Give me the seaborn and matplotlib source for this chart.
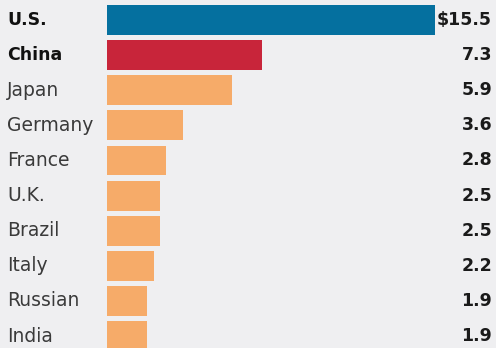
import matplotlib
matplotlib.use("Agg")
import matplotlib.pyplot as plt
import matplotlib.transforms as mtransforms
import seaborn as sns
import pandas as pd

countries = ["U.S.", "China", "Japan", "Germany", "France", "U.K.", "Brazil", "Italy", "Russian", "India"]
values = [15.5, 7.3, 5.9, 3.6, 2.8, 2.5, 2.5, 2.2, 1.9, 1.9]
value_labels = ["$15.5", "7.3", "5.9", "3.6", "2.8", "2.5", "2.5", "2.2", "1.9", "1.9"]
bold_rows = ["U.S.", "China"]

bar_colors = {"U.S.": "#05709f", "China": "#c8253a"}
other_color = "#f6ab69"
bg = "#efeff1"

df = pd.DataFrame({"country": countries, "value": values})
palette = {c: bar_colors.get(c, other_color) for c in countries}

sns.set_theme(style="white")
plt.rcParams['font.family'] = ['DejaVu Sans']

fig = plt.figure(figsize=(4.96, 3.48), dpi=100)
fig.patch.set_facecolor(bg)
ax = fig.add_axes([0, 0, 1, 1])
ax.set_facecolor(bg)

sns.barplot(data=df, y="country", x="value", hue="country", palette=palette,
            orient="h", width=0.85, legend=False, ax=ax, saturation=1, linewidth=0)

ax.set_xlim(-5.06, 18.38)
ax.set_ylim(9.34, -0.57)
ax.axis("off")

trans = mtransforms.blended_transform_factory(ax.transAxes, ax.transData)
for i, (c, lbl) in enumerate(zip(countries, value_labels)):
    is_bold = c in bold_rows
    ax.text(0.014, i, c, transform=trans, ha="left", va="center",
            fontsize=12.5 if is_bold else 13.5,
            fontweight="bold" if is_bold else "normal",
            color="#111111" if is_bold else "#3a3a3a")
    ax.text(0.992, i, lbl, transform=trans, ha="right", va="center",
            fontsize=12.5, fontweight="bold", color="#1a1a1a")

fig.savefig("out.png", dpi=100, facecolor=bg)
